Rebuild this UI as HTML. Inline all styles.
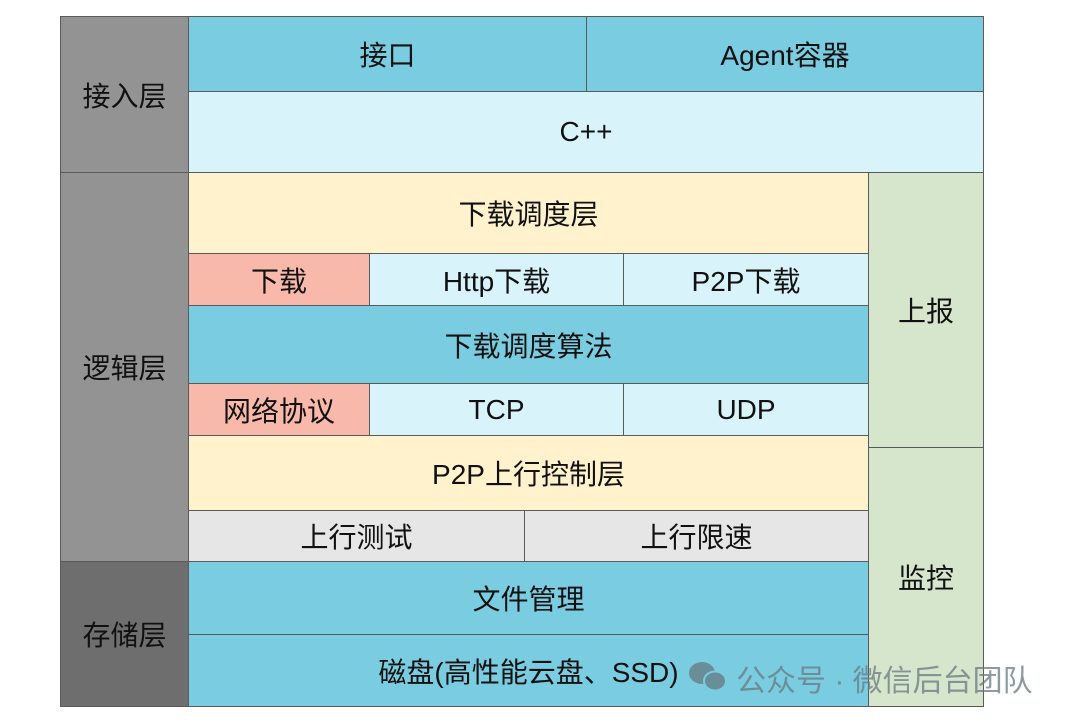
<!DOCTYPE html>
<html><head><meta charset="utf-8"><style>
body{margin:0;width:1070px;height:720px;background:#fff;position:relative;overflow:hidden;font-family:"Liberation Sans","Noto Sans CJK SC",sans-serif}
.b{position:absolute;box-sizing:border-box;border:1.5px solid #5a5a5a;display:flex;align-items:center;justify-content:center;font-size:28px;color:#111}
.g{background:#939393}.dg{background:#6e6e6e}.bl{background:#7acde1}.lb{background:#d8f4fa}.be{background:#fff2cc}.sa{background:#f8b9aa}.gr{background:#d5e6cc}.lg{background:#e6e6e6}
</style></head><body>
<div class="b g" style="left:60px;top:16px;width:129px;height:157px">接入层</div>
<div class="b g" style="left:60px;top:172px;width:129px;height:390px">逻辑层</div>
<div class="b dg" style="left:60px;top:561px;width:129px;height:146px">存储层</div>
<div class="b bl" style="left:188px;top:16px;width:399px;height:76px">接口</div>
<div class="b bl" style="left:586px;top:16px;width:398px;height:76px">Agent容器</div>
<div class="b lb" style="left:188px;top:91px;width:796px;height:82px">C++</div>
<div class="b be" style="left:188px;top:172px;width:681px;height:82px">下载调度层</div>
<div class="b gr" style="left:868px;top:172px;width:116px;height:276px">上报</div>
<div class="b gr" style="left:868px;top:447px;width:116px;height:260px">监控</div>
<div class="b sa" style="left:188px;top:253px;width:182px;height:53px">下载</div>
<div class="b lb" style="left:369px;top:253px;width:255px;height:53px">Http下载</div>
<div class="b lb" style="left:623px;top:253px;width:246px;height:53px">P2P下载</div>
<div class="b bl" style="left:188px;top:305px;width:681px;height:79px">下载调度算法</div>
<div class="b sa" style="left:188px;top:383px;width:182px;height:53px">网络协议</div>
<div class="b lb" style="left:369px;top:383px;width:255px;height:53px">TCP</div>
<div class="b lb" style="left:623px;top:383px;width:246px;height:53px">UDP</div>
<div class="b be" style="left:188px;top:435px;width:681px;height:76px">P2P上行控制层</div>
<div class="b lg" style="left:188px;top:510px;width:337px;height:52px">上行测试</div>
<div class="b lg" style="left:524px;top:510px;width:345px;height:52px">上行限速</div>
<div class="b bl" style="left:188px;top:561px;width:681px;height:74px">文件管理</div>
<div class="b bl" style="left:188px;top:634px;width:681px;height:73px">磁盘(高性能云盘、SSD)</div>
<svg style="position:absolute;left:688px;top:660px" width="42" height="34"><ellipse cx="14" cy="13" rx="13" ry="11" fill="#6a8e98"/><ellipse cx="27" cy="21" rx="11" ry="9.5" fill="#6a8e98" stroke="#7acde1" stroke-width="2"/></svg>
<div style="position:absolute;left:736px;top:656px;font-size:30px;color:rgba(105,120,128,0.75);white-space:nowrap">公众号 · 微信后台团队</div>
</body></html>
